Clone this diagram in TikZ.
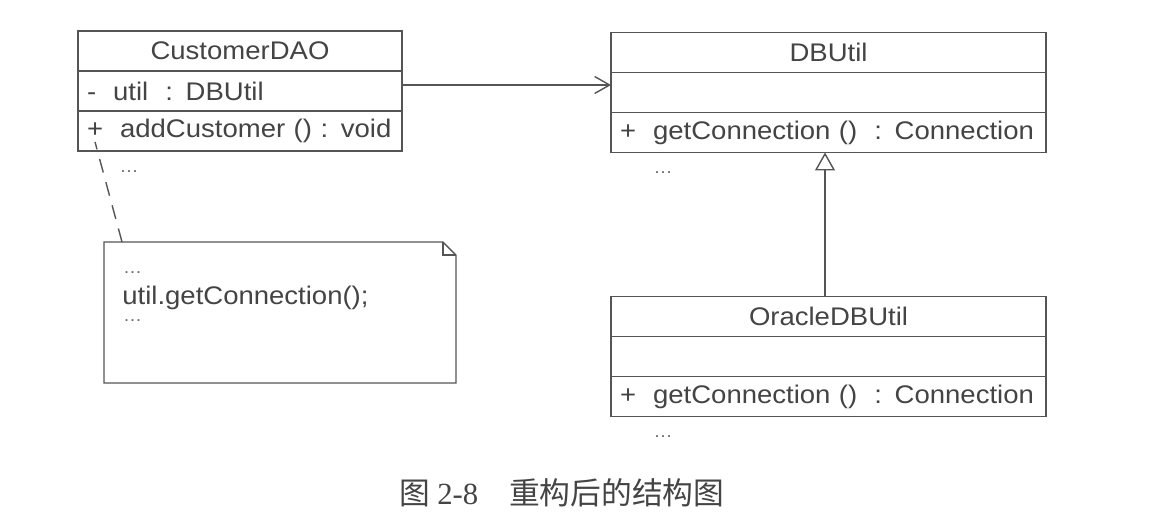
\documentclass[tikz,border=0pt]{standalone}
\usepackage{fontspec}
\setmainfont{Liberation Sans}[FakeStretch=1.08]
\newfontfamily\cjk{Noto Sans CJK SC}
\newfontfamily\capserif{Liberation Serif}
\usepackage{xcolor}
\usetikzlibrary{arrows.meta, positioning, calc}

\definecolor{umlline}{HTML}{555555}
\definecolor{umltext}{HTML}{444444}

\begin{document}
\begin{tikzpicture}[
    x=0.02cm, y=-0.02cm,
    every node/.style={text=umltext, font=\fontsize{14.5}{17}\selectfont},
    clsname/.style={rectangle, draw=umlline, line width=0.8pt, minimum width=#1, minimum height=0.8cm, inner sep=0pt, outer sep=0pt},
    member/.style={rectangle, draw=umlline, line width=0.8pt, text width=#1, minimum height=0.8cm, inner xsep=0.18cm, inner ysep=0pt, outer sep=0pt, align=left},
    more/.style={font=\fontsize{10}{12}\selectfont, text=umltext!80, inner sep=1pt},
    notebox/.style={minimum width=7.04cm, minimum height=2.82cm, inner sep=0pt, outer sep=0pt},
    assoc/.style={-{Straight Barb[length=0.3cm, width=0.34cm]}, draw=umlline, line width=0.8pt},
    inherit/.style={-{Triangle[fill=white, length=0.36cm, width=0.4cm]}, draw=umlline, line width=0.8pt},
    anchorline/.style={draw=umlline, line width=0.8pt, dash pattern=on 0.28cm off 0.2cm}
]

\fill[white] (0,0) rectangle (1158,528);

% Classes
\node[clsname=6.48cm] (dao) at (240,51) {CustomerDAO};
\node[member=6.12cm, below=0pt of dao] (daoattr) {-\ \ util\ \ : DBUtil};
\node[member=6.12cm, below=0pt of daoattr] (daoops) {\mbox{+\ \ addCustomer () : void}};
\node[more] (daomore) at (129,172) {\ldots};

\node[clsname=8.7cm] (db) at (828.5,52.5) {DBUtil};
\node[member=8.34cm, below=0pt of db] (dbattr) {};
\node[member=8.34cm, below=0pt of dbattr] (dbops) {+\ \ getConnection ()\ \ : Connection};
\node[more] (dbmore) at (663,173) {\ldots};

\node[clsname=8.7cm] (oracle) at (828.5,316.5) {OracleDBUtil};
\node[member=8.34cm, below=0pt of oracle] (oracleattr) {};
\node[member=8.34cm, below=0pt of oracleattr] (oracleops) {+\ \ getConnection ()\ \ : Connection};
\node[more] (oraclemore) at (663,437) {\ldots};

% Note
\node[notebox] (memo) at (280,312.5) {};
\draw[umlline, line width=0.8pt] (memo.north west) -- ([xshift=-0.26cm]memo.north east)
    -- ([yshift=-0.26cm]memo.north east) -- (memo.south east) -- (memo.south west) -- cycle;
\draw[umlline, line width=0.8pt] ([xshift=-0.26cm]memo.north east) |- ([yshift=-0.26cm]memo.north east);
\node[more, anchor=west] (memodots) at (121,273) {\ldots};
\node[anchor=west, inner sep=0pt] (memocall) at (122,298) {util.getConnection();};
\node[more, anchor=west] (memoend) at (121,321) {\ldots};

% Connectors
\draw[assoc] ([yshift=0.12cm]daoattr.east) -- ([yshift=0.12cm]daoattr.east -| dbattr.west);
\draw[inherit] ([xshift=-0.07cm]oracle.north) -- ([xshift=-0.07cm]dbops.south);
\draw[anchorline] ([xshift=0.36cm]memo.north west) -- ([xshift=0.34cm, yshift=0.18cm]daoops.south west);

% Caption
\node[font=\fontsize{17.5}{20}\selectfont] (caption) at (562,493) {\cjk 图\ {\capserif 2-8}\quad 重构后的结构图};

\end{tikzpicture}
\end{document}
